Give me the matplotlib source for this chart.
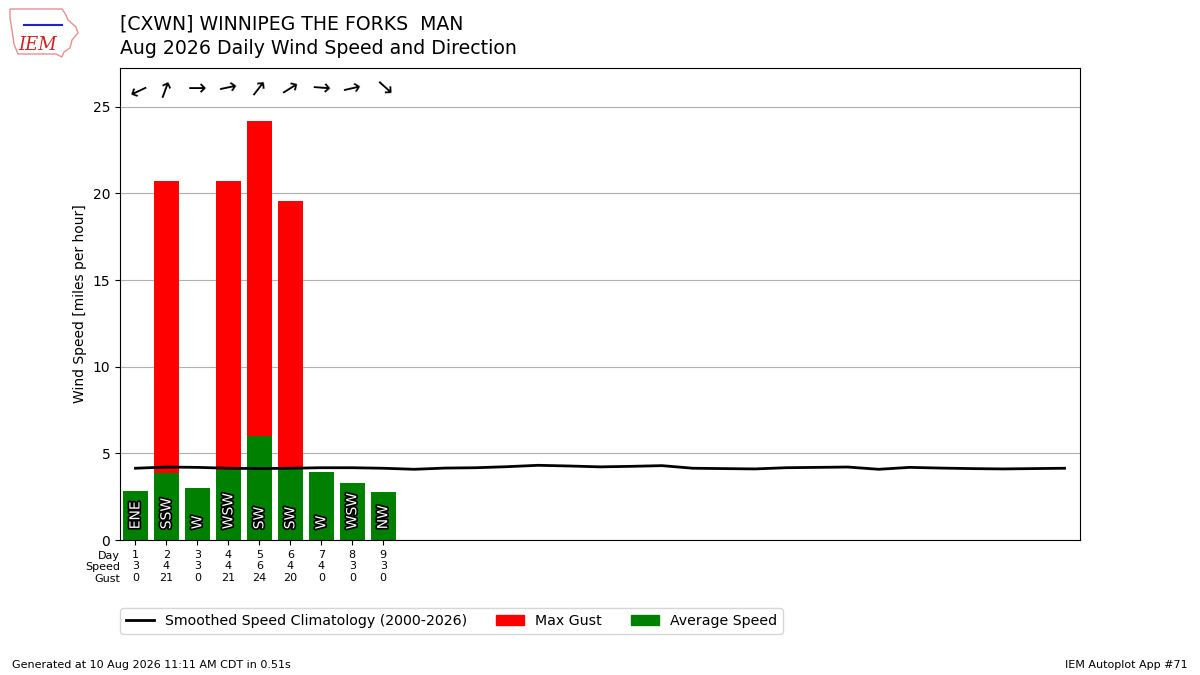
"""Daily wind speed / direction bars for one station-month (IEM autoplot #71 style)."""

import matplotlib

matplotlib.use("Agg")
import matplotlib.patheffects as PathEffects
import matplotlib.pyplot as plt
from matplotlib.lines import Line2D
from matplotlib.patches import Patch, Polygon

# ------------------------------------------------------------------ data
days = [1, 2, 3, 4, 5, 6, 7, 8, 9]
avg_speed = [2.83, 3.87, 3.0, 4.05, 6.0, 4.1, 3.93, 3.29, 2.77]
max_gust = [0, 20.73, 0, 20.73, 24.19, 19.57, 0, 0, 0]
drct_txt = ["ENE", "SSW", "W", "WSW", "SW", "SW", "W", "WSW", "NW"]
drct_deg = [65, 200, 270, 258, 218, 238, 274, 257, 312]

clim_days = list(range(1, 32))
clim_speed = [
    4.14, 4.21, 4.19, 4.14, 4.12, 4.14, 4.17, 4.17, 4.14, 4.08,
    4.15, 4.17, 4.23, 4.31, 4.27, 4.22, 4.25, 4.29, 4.14, 4.12,
    4.10, 4.17, 4.19, 4.21, 4.08, 4.19, 4.15, 4.12, 4.10, 4.12,
    4.14,
]

title_lines = [
    "[CXWN] WINNIPEG THE FORKS  MAN",
    "Aug 2026 Daily Wind Speed and Direction",
]
footer_left = "Generated at 10 Aug 2026 11:11 AM CDT in 0.51s"
footer_right = "IEM Autoplot App #71"

# ------------------------------------------------------------------ plot
fig = plt.figure(figsize=(12, 6.75), dpi=100)
ax = fig.add_axes([0.1, 0.2, 0.8, 0.7])

ax.bar(days, max_gust, width=0.8, color="#ff0000", zorder=2)
ax.bar(days, avg_speed, width=0.8, color="#008000", zorder=2)
ax.plot(clim_days, clim_speed, color="k", lw=2, zorder=4)

ymax = max(max_gust) * 1.127
ax.set_ylim(0, ymax)
ax.set_xlim(0.5, 31.5)
ax.set_yticks([0, 5, 10, 15, 20, 25])
ax.yaxis.grid(True, color="#b0b0b0", zorder=0)
ax.set_axisbelow(True)
ax.set_ylabel("Wind Speed [miles per hour]", fontsize=10)

# direction text inside the bars
for d, txt in zip(days, drct_txt):
    t = ax.text(d, 0.62, txt, rotation=90, ha="center", va="bottom",
                color="white", fontsize=10, zorder=5)
    t.set_path_effects([PathEffects.withStroke(linewidth=2.5, foreground="k")])

# arrows pointing in the direction the wind blows toward
for d, deg in zip(days, drct_deg):
    ang = -90 - deg
    ax.text(d, ymax * 0.955, "\u2192", rotation=ang, rotation_mode="anchor",
            ha="center", va="center", fontsize=16, zorder=5)

# table under the axis: day / speed / gust
ax.set_xticks(days)
ax.set_xticklabels(
    [f"{d}\n{s:.0f}\n{g:.0f}" for d, s, g in zip(days, avg_speed, max_gust)],
    fontsize=8,
)
ax.text(0.5, -0.0225, "Day\nSpeed\nGust", transform=ax.get_xaxis_transform(),
        ha="right", va="top", fontsize=8, multialignment="right")

# legend below the axes
handles = [
    Line2D([], [], color="k", lw=2),
    Patch(color="#ff0000"),
    Patch(color="#008000"),
]
labels = ["Smoothed Speed Climatology (2000-2026)", "Max Gust", "Average Speed"]
fig.legend(handles, labels, loc="center left", bbox_to_anchor=(0.1, 1 - 621 / 675),
           ncol=3, fontsize=10.2, borderaxespad=0)

# titles and footer
fig.text(0.1, 1 - 24 / 675, title_lines[0], fontsize=13.6, va="center")
fig.text(0.1, 1 - 48 / 675, title_lines[1], fontsize=13.6, va="center")
fig.text(0.01, 1 - 665 / 675, footer_left, fontsize=8, va="center")
fig.text(0.99, 1 - 665 / 675, footer_right, fontsize=8, va="center", ha="right")

# rough stand-in for the IEM logo (state outline + lettering)
outline_px = [(10, 9), (62, 9), (66, 15), (68, 20), (76, 27), (78, 33),
              (72, 40), (70, 48), (64, 52), (62, 57), (56, 54), (18, 54),
              (14, 44), (12, 30), (10, 18)]
fig.patches.append(Polygon(
    [(x / 1200, 1 - y / 675) for x, y in outline_px], closed=True,
    fill=False, edgecolor="#e89090", lw=1, transform=fig.transFigure))
fig.text(38 / 1200, 1 - 45 / 675, "IEM", fontsize=13, color="#cc2222",
         fontstyle="italic", family="serif", ha="center", va="center")
fig.lines.append(Line2D([24 / 1200, 62 / 1200], [1 - 25 / 675, 1 - 25 / 675],
                        color="#2222cc", lw=1.5, transform=fig.transFigure))

fig.savefig("out.png", dpi=100)
